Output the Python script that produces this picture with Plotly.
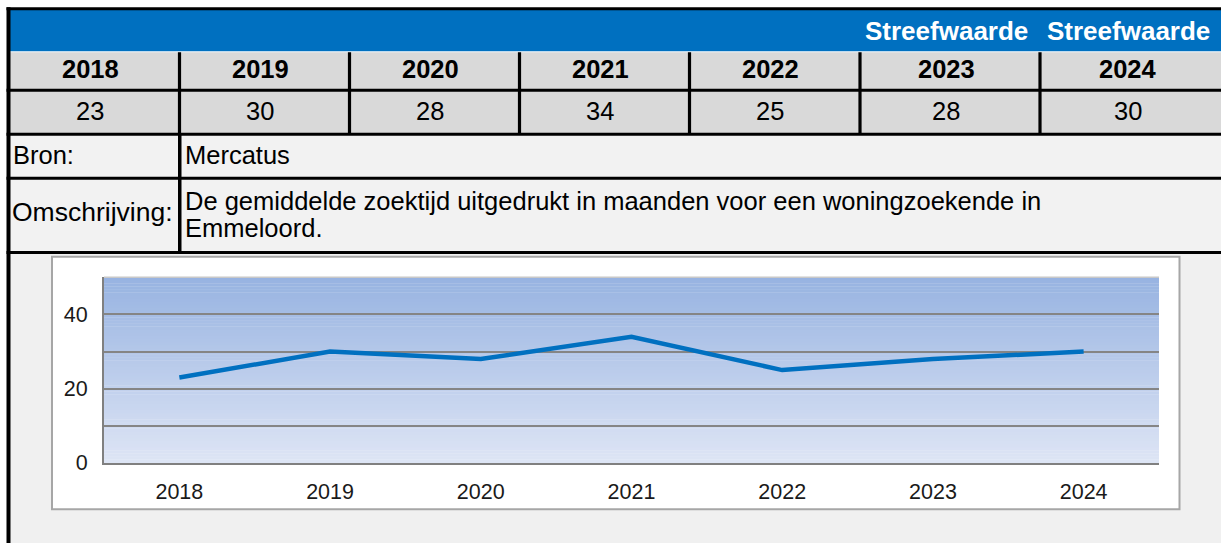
import plotly.graph_objects as go

# ---- data ----
years = ["2018", "2019", "2020", "2021", "2022", "2023", "2024"]
values = [23, 30, 28, 34, 25, 28, 30]
header_labels = ["", "", "", "", "", "Streefwaarde", "Streefwaarde"]
source_label = "Bron:"
source_text = "Mercatus"
desc_label = "Omschrijving:"
desc_lines = ["De gemiddelde zoektijd uitgedrukt in maanden voor een woningzoekende in",
              "Emmeloord."]
y_tickvals = [0, 10, 20, 30, 40, 50]
y_ticktext = ["0", "", "20", "", "40", ""]

# ---- layout constants (page pixels) ----
W, H = 1221, 554
col_centers = [90, 260, 430, 600, 770, 946, 1128]
col_dividers = [179.5, 349.5, 519.5, 689.5, 860, 1040]

def fx(x):
    return x / W

def fy(y):
    return 1 - y / H

fig = go.Figure()

shapes = []
def rect(x0, y0, x1, y1, fill, line=None):
    d = dict(type="rect", xref="paper", yref="paper",
             x0=fx(x0), x1=fx(x1), y0=fy(y1), y1=fy(y0),
             fillcolor=fill, layer="below")
    d["line"] = line if line else dict(width=0)
    shapes.append(d)

# table backgrounds
rect(10, 10, W + 2, 52.5, "#0070C0")
rect(10, 53.5, W + 2, 137, "#D9D9D9")
rect(10, 137, W + 2, 258, "#F2F2F2")
rect(10, 258, W + 2, H + 2, "#F0F0F0")

# black horizontal rules
for (ya, yb) in [(7.5, 10.5), (91, 94), (136, 139), (181, 184), (257, 260)]:
    rect(6.5, ya, W + 2, yb, "#000000")
# left border
rect(6.5, 7.5, 10.5, H + 2, "#000000")
# vertical dividers in year/value rows
for xc in col_dividers:
    rect(xc - 1.6, 53.5, xc + 1.6, 137, "#000000")
# label column divider
rect(178, 137, 181.5, 260, "#000000")

# chart box
rect(52, 263, 1179.5, 521.5, "#FFFFFF", line=dict(color="#A6A6A6", width=2))

# gradient plot background (drawn in axis-domain space)
top_c = (151, 179, 225)
bot_c = (222, 229, 245)
N = 60
for i in range(N):
    t = i / N
    c = tuple(round(bot_c[k] + (top_c[k] - bot_c[k]) * (t + 0.5 / N)) for k in range(3))
    shapes.append(dict(type="rect", xref="x domain", yref="y domain",
                       x0=0, x1=1, y0=t, y1=(i + 1) / N + 0.002,
                       fillcolor="rgb(%d,%d,%d)" % c, line=dict(width=0), layer="below"))
# light top edge of plot
shapes.append(dict(type="line", xref="x domain", yref="y domain", x0=0, x1=1, y0=1, y1=1,
                   line=dict(color="#C8C8C8", width=1.5), layer="below"))

fig.add_trace(go.Scatter(
    x=years, y=values, mode="lines",
    line=dict(color="#0070C0", width=4.5),
    hoverinfo="skip", showlegend=False,
))

annotations = []
def text(x, y, s, size=25.5, bold=False, color="#000000", xanchor="center"):
    annotations.append(dict(
        x=fx(x), y=fy(y), xref="paper", yref="paper", showarrow=False,
        text=("<b>%s</b>" % s) if bold else s,
        font=dict(family="Liberation Sans, Arial", size=size, color=color),
        xanchor=xanchor, yanchor="middle",
    ))

for xc, h in zip(col_centers, header_labels):
    if h:
        text(xc, 32, h, size=26, bold=True, color="#FFFFFF")
for xc, yr in zip(col_centers, years):
    text(xc, 71, yr, size=25.5, bold=True)
for xc, v in zip(col_centers, values):
    text(xc, 114, str(v))

text(11, 159, source_label, xanchor="left")
text(183, 159, source_text, xanchor="left")
text(10, 217, desc_label, size=26.5, xanchor="left")
text(183, 206, desc_lines[0], xanchor="left")
text(183, 233, desc_lines[1], xanchor="left")

tick_font = dict(family="Liberation Sans, Arial", size=21.5, color="#1A1A1A")

fig.update_layout(
    width=W, height=H, autosize=False,
    margin=dict(l=0, r=0, t=0, b=0),
    paper_bgcolor="#FFFFFF", plot_bgcolor="rgba(0,0,0,0)",
    shapes=shapes, annotations=annotations,
    showlegend=False,
    xaxis=dict(
        domain=[fx(104), fx(1159)], type="category", range=[-0.5, 6.5],
        showgrid=False, zeroline=False, showline=True, linecolor="#808080", linewidth=2,
        ticks="outside", ticklen=8, tickcolor="rgba(0,0,0,0)",
        tickfont=tick_font, fixedrange=True,
    ),
    yaxis=dict(
        domain=[fy(474), fy(284)], range=[0, 50],
        tickvals=y_tickvals, ticktext=y_ticktext,
        showgrid=True, gridcolor="#858585", gridwidth=2, zeroline=False,
        showline=True, linecolor="#808080", linewidth=2,
        ticks="outside", ticklen=10, tickcolor="rgba(0,0,0,0)",
        tickfont=tick_font, fixedrange=True,
    ),
)

fig.write_html(
    "out.html",
    config={"displayModeBar": False},
    post_script="document.body.style.margin='0';document.body.style.overflow='hidden';",
)
